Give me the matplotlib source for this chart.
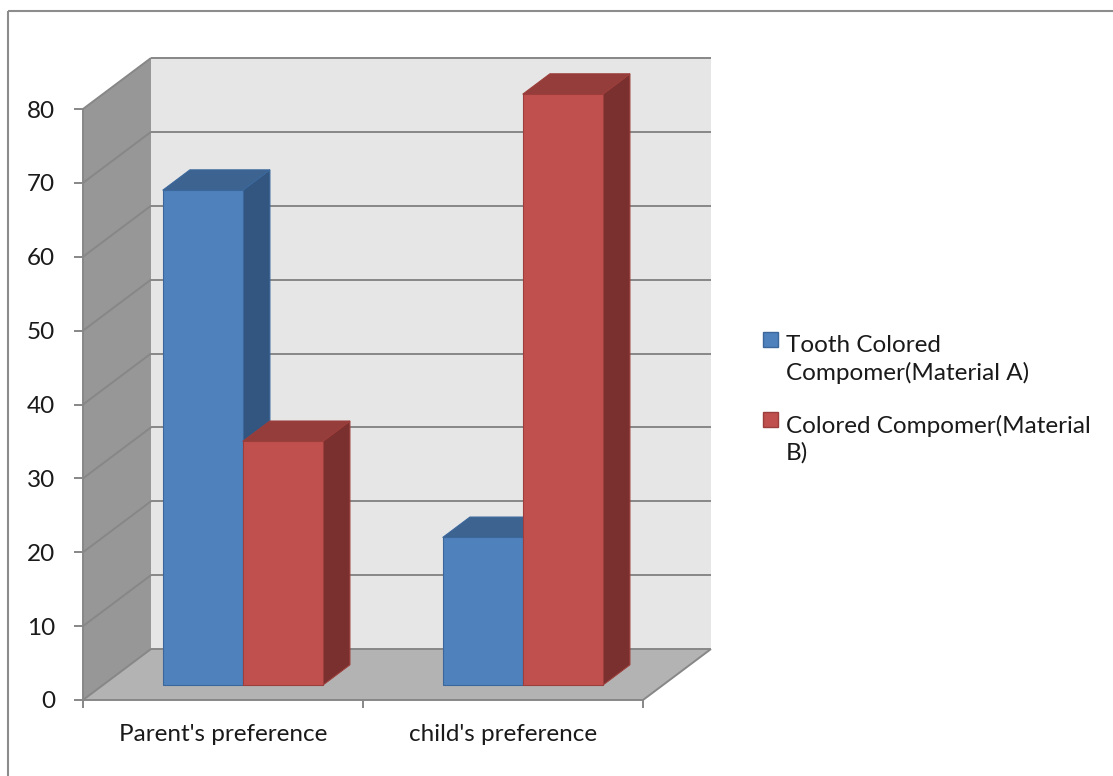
import matplotlib

matplotlib.use("Agg")
import matplotlib.pyplot as plt
from matplotlib.patches import Polygon, Rectangle

categories = ["Parent's preference", "child's preference"]
series_names = ["Tooth Colored\nCompomer(Material A)", "Colored Compomer(Material\nB)"]
material_a = [67, 20]
material_b = [33, 80]
y_ticks = [0, 10, 20, 30, 40, 50, 60, 70, 80]

W, H = 1113, 776
FONT = "Lato"
TEXT = "#1a1a1a"
GRID = "#878787"
FS = 17.5

# face colours per series: front, top, side, outline
STYLES = [
    ("#4f81bd", "#3d6491", "#325680", "#3b679b"),
    ("#c0504d", "#943d3b", "#7a302f", "#9c3e3b"),
]

plt.rcParams["font.family"] = [FONT, "DejaVu Sans"]

fig = plt.figure(figsize=(W / 100, H / 100), dpi=100)
ax = fig.add_axes([83 / W, (H - 700) / H, 560 / W, 591 / H])
ax.set_xlim(0, len(categories))
ax.set_ylim(y_ticks[0], y_ticks[-1])
ax.patch.set_visible(False)

# oblique depth offset (full wall depth) expressed in data units
DX = 68 * len(categories) / 560
DY = 51 * y_ticks[-1] / 591
BAR_D0, BAR_D1 = 0.29, 0.69
BAR_W = 1 / 3.5


def project(x, y, d):
    return (x + d * DX, y + d * DY)


def face(points, color, z, edge="none", lw=0.0):
    ax.add_patch(Polygon([project(*p) for p in points], closed=True, facecolor=color,
                         edgecolor=edge, linewidth=lw, zorder=z, clip_on=False))


def line3d(p0, p1, z=1.5):
    (x0, y0), (x1, y1) = project(*p0), project(*p1)
    ax.plot([x0, x1], [y0, y1], color=GRID, lw=1.4, zorder=z, clip_on=False,
            solid_capstyle="butt")


x_max = len(categories)
y_top = y_ticks[-1]

# walls and floor
face([(0, 0, 0), (0, y_top, 0), (0, y_top, 1), (0, 0, 1)], "#979797", 1)
face([(0, 0, 1), (x_max, 0, 1), (x_max, y_top, 1), (0, y_top, 1)], "#e6e6e6", 1)
face([(0, 0, 0), (x_max, 0, 0), (x_max, 0, 1), (0, 0, 1)], "#b3b3b3", 1.2)
line3d((x_max, 0, 0), (x_max, 0, 1))

for v in y_ticks:
    line3d((0, v, 1), (x_max, v, 1))
    line3d((0, v, 0), (0, v, 1))

# bars, drawn left to right so later front faces hide shared sides
series = [material_a, material_b]
z = 3
for i in range(len(categories)):
    for j, values in enumerate(series):
        front, top, side, edge = STYLES[j]
        x0 = i + 0.5 - BAR_W * len(series) / 2 + j * BAR_W
        x1 = x0 + BAR_W
        v = values[i]
        face([(x1, 0, BAR_D0), (x1, 0, BAR_D1), (x1, v, BAR_D1), (x1, v, BAR_D0)],
             side, z, edge, 0.8)
        face([(x0, v, BAR_D0), (x1, v, BAR_D0), (x1, v, BAR_D1), (x0, v, BAR_D1)],
             top, z + 0.1, edge, 0.8)
        face([(x0, 0, BAR_D0), (x1, 0, BAR_D0), (x1, v, BAR_D0), (x0, v, BAR_D0)],
             front, z + 0.2, edge, 0.8)
        z += 1

# axes lines and ticks
for name in ("top", "right"):
    ax.spines[name].set_visible(False)
for name in ("left", "bottom"):
    ax.spines[name].set_color(GRID)
    ax.spines[name].set_linewidth(1.4)
    ax.spines[name].set_zorder(20)

ax.set_yticks(y_ticks)
ax.set_yticklabels([str(t) for t in y_ticks])
ax.set_xticks(range(len(categories) + 1))
ax.set_xticklabels([""] * (len(categories) + 1))
ax.set_xticks([i + 0.5 for i in range(len(categories))], minor=True)
ax.set_xticklabels(categories, minor=True)
ax.tick_params(axis="y", direction="out", length=6.5, width=1.4, color=GRID,
               pad=13.5, labelsize=FS, labelcolor=TEXT)
ax.tick_params(axis="x", which="major", direction="out", length=6, width=1.4, color=GRID)
ax.tick_params(axis="x", which="minor", length=0, pad=17.5, labelsize=FS, labelcolor=TEXT)

# overlay in pixel space for border and legend
ov = fig.add_axes([0, 0, 1, 1], zorder=-1)
ov.set_xlim(0, W)
ov.set_ylim(H, 0)
ov.axis("off")
ov.add_patch(Rectangle((8, 11), W + 20, H + 20, facecolor="none", edgecolor="#8c8c8c",
                       linewidth=1.5, clip_on=False))

legend_rows = [332, 412]
for (front, _, _, edge), name, row in zip(STYLES, series_names, legend_rows):
    ov.add_patch(Rectangle((763, row), 15, 15, facecolor=front, edgecolor=edge, linewidth=1.0))
    ov.text(786, row + 48, name, fontsize=FS, color=TEXT, va="baseline", ha="left",
            linespacing=1.3)

fig.savefig("out.png", dpi=100)
